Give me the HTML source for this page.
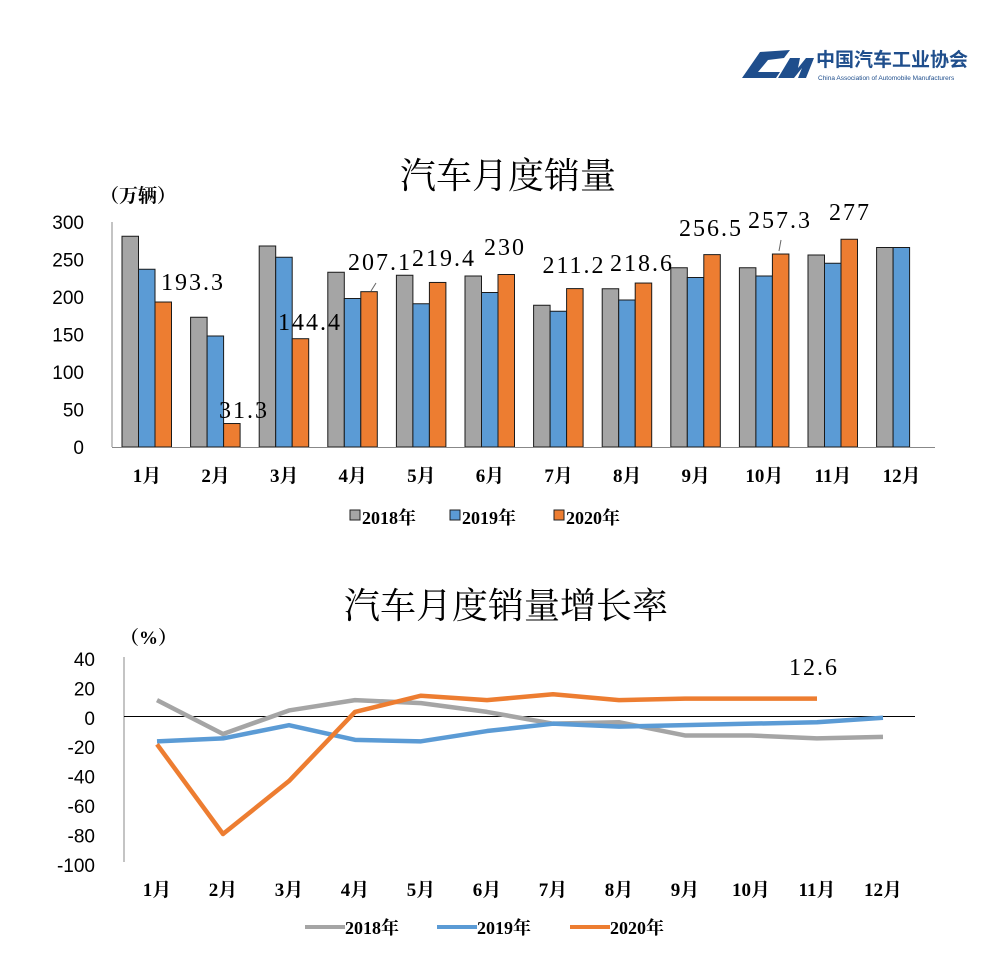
<!DOCTYPE html>
<html><head><meta charset="utf-8"><style>
body{margin:0;background:#fff;}
svg text{font-family:"Liberation Serif","Noto Serif CJK SC",serif;}
</style></head><body>
<svg id="s" width="1000" height="957" xmlns="http://www.w3.org/2000/svg">
<rect width="1000" height="957" fill="#fff"/>
<path d="M742 78 L760 52 L790 50 L784 58 L768 60 L758 72 L780 72 L776 78 Z" fill="#1f4e8c"/>
<path d="M778 78 L790 58 L800 58 L798 68 L806 58 L814 58 L806 78 L798 78 L802 68 L794 78 Z" fill="#1f4e8c"/>
<text x="816" y="66" font-size="19" font-weight="bold" fill="#1f4e8c" style="font-family:'Noto Sans CJK SC',sans-serif">中国汽车工业协会</text>
<text x="818" y="80" font-size="6.5" fill="#1f4e8c" style="font-family:'Liberation Sans',sans-serif">China Association of Automobile Manufacturers</text>
<text x="508" y="188" font-size="36" text-anchor="middle">汽车月度销量</text>
<text x="100" y="202" font-size="19" font-weight="bold">（万辆）</text>
<text x="506" y="618" font-size="36" text-anchor="middle">汽车月度销量增长率</text>
<text x="120" y="644" font-size="19" font-weight="bold">（%）</text>
<g id="g"></g>
</svg>
<script>
var g=document.getElementById('g'),h='';
function T(x,y,t,s,a,w,ls,ff){h+='<text x="'+x+'" y="'+y+'" font-size="'+s+'" text-anchor="'+(a||'middle')+'"'+(w?' font-weight="bold"':'')+(ls?' letter-spacing="'+ls+'"':'')+(ff?' style="font-family:'+ff+'"':'')+'>'+t+'</text>';}
var b=447,k=0.75;
[0,50,100,150,200,250,300].forEach(function(v){T(84,b-v*k+7,v,19,'end',false,0,"'Liberation Sans',sans-serif");});
var d18=[281,173,268,233,229,228,189,211,239,239,256,266],
d19=[237,148,253,198,191,206,181,196,226,228,245,266],
d20=[193.3,31.3,144.4,207.1,219.4,230,211.2,218.6,256.5,257.3,277],
cols=['#a5a5a5','#5b9bd5','#ed7d31'];
for(var i=0;i<12;i++){var x0=122+68.6*i;
[d18,d19,d20].forEach(function(d,j){if(d[i]==null)return;var hh=d[i]*k;
h+='<rect x="'+(x0+j*16.5)+'" y="'+(b-hh)+'" width="16.5" height="'+hh+'" fill="'+cols[j]+'" stroke="#1a1a1a" stroke-width="1"/>';});
T(x0+25,482,(i+1)+'月',19,'middle',true);}
h+='<line x1="112" y1="222" x2="112" y2="447" stroke="#888"/><line x1="112" y1="447.5" x2="935" y2="447.5" stroke="#888"/>';
var lab=[[193,290,'193.3'],[244,418,'31.3'],[310,330,'144.4'],[380,270,'207.1'],[444,266,'219.4'],[505,255,'230'],[574,273,'211.2'],[642,271,'218.6'],[711,236,'256.5'],[780,228,'257.3'],[850,220,'277']];
lab.forEach(function(l){T(l[0],l[1],l[2],24,'middle',false,2);});
h+='<line x1="371" y1="291" x2="376" y2="283" stroke="#666"/><line x1="779" y1="251" x2="781" y2="240" stroke="#666"/>';
[['2018年',350],['2019年',450],['2020年',554]].forEach(function(l,j){h+='<rect x="'+l[1]+'" y="510" width="10" height="10" fill="'+cols[j]+'" stroke="#222"/>';T(l[1]+12,524,l[0],18,'start',true);});
var z=717.8,s=1.471;
[40,20,0,-20,-40,-60,-80,-100].forEach(function(v){T(95,z-v*s+7,v,19,'end',false,0,"'Liberation Sans',sans-serif");});
h+='<line x1="124" y1="657" x2="124" y2="862" stroke="#888"/><line x1="124" y1="716.5" x2="915" y2="716.5" stroke="#000"/>';
for(var i=0;i<12;i++)T(157+66*i,896,(i+1)+'月',19,'middle',true);
var l18=[12,-11,5,12,10,4,-4,-3,-12,-12,-14,-13],l19=[-16,-14,-5,-15,-16,-9,-4,-6,-5,-4,-3,0],l20=[-18,-79,-43,4,15,12,16,12,13,13,13];
[l18,l19,l20].forEach(function(d,j){var p=d.map(function(v,i){return (157+66*i)+','+(z-v*s);}).join(' ');
h+='<polyline points="'+p+'" fill="none" stroke="'+cols[j]+'" stroke-width="4.5" stroke-linejoin="round"/>';});
T(814,675,'12.6',24,'middle',false,2);
[['2018年',305],['2019年',437],['2020年',570]].forEach(function(l,j){h+='<line x1="'+l[1]+'" y1="927" x2="'+(l[1]+40)+'" y2="927" stroke="'+cols[j]+'" stroke-width="4"/>';T(l[1]+40,934,l[0],18,'start',true);});
g.innerHTML=h;
</script>
</body></html>
